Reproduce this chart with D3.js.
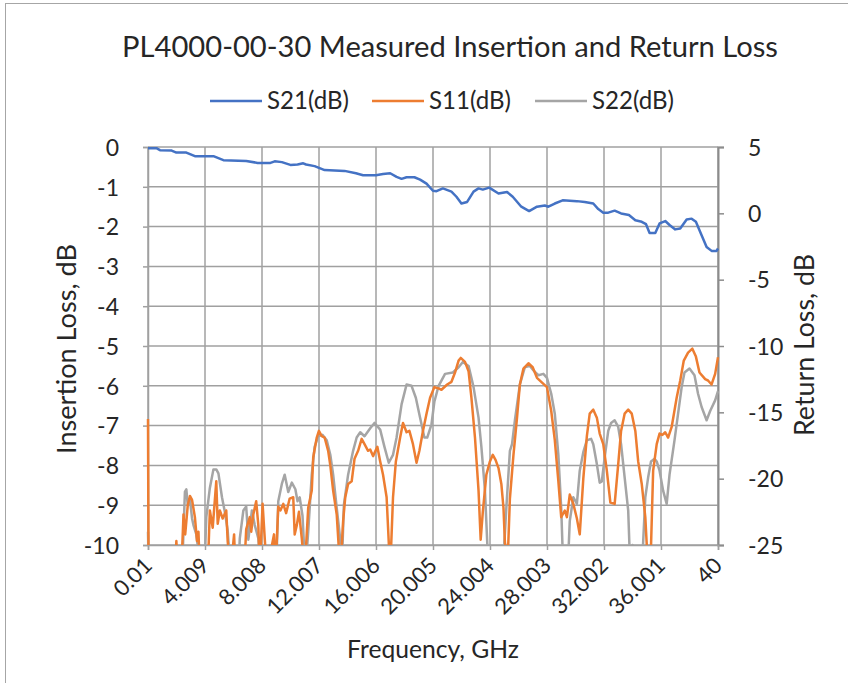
<!DOCTYPE html>
<html>
<head>
<meta charset="utf-8">
<script src="https://cdn.jsdelivr.net/npm/d3@7"></script>
<style>
  html, body { margin: 0; padding: 0; background: #fff; }
  svg { display: block; }
  text { font-family: Lato, "Open Sans", sans-serif; fill: #262626; }
</style>
</head>
<body>
<svg id="chart" width="848" height="683"></svg>
<script>
// ---------- DATA ----------
const titleText = "PL4000-00-30 Measured Insertion and Return Loss";
const seriesNames = ["S21(dB)", "S11(dB)", "S22(dB)"];
const xTickValues = [0.01, 4.009, 8.008, 12.007, 16.006, 20.005, 24.004, 28.003, 32.002, 36.001, 40];
const xTickLabels = ["0.01", "4.009", "8.008", "12.007", "16.006", "20.005", "24.004", "28.003", "32.002", "36.001", "40"];
const leftTicks = [0, -1, -2, -3, -4, -5, -6, -7, -8, -9, -10];
const rightTicks = [5, 0, -5, -10, -15, -20, -25];

// S21 insertion loss (left axis)
const s21Freq = [0.01,0.6,0.85,1.67,2.0,2.7,3.3,4.6,5.3,6.9,7.7,8.6,8.9,9.4,10.0,10.5,10.9,11.1,11.7,12.4,13.8,14.6,15.1,16.0,16.5,17.0,17.45,17.8,18.15,18.7,19.1,19.55,20.0,20.25,20.7,21.3,21.65,22.0,22.4,22.85,23.2,23.5,23.95,24.6,25.2,25.6,26.2,26.75,27.3,27.85,28.1,28.55,29.1,30.1,30.65,31.25,31.6,31.95,32.3,32.75,33.2,33.75,34.2,34.65,34.95,35.2,35.6,35.9,36.3,36.6,37.0,37.35,37.8,38.15,38.45,38.85,39.2,39.55,39.9,40];
const s21Val  = [-0.03,-0.03,-0.08,-0.09,-0.14,-0.14,-0.23,-0.23,-0.33,-0.35,-0.40,-0.40,-0.36,-0.38,-0.45,-0.44,-0.41,-0.44,-0.48,-0.58,-0.60,-0.66,-0.71,-0.71,-0.68,-0.66,-0.75,-0.80,-0.76,-0.76,-0.82,-0.92,-1.10,-1.11,-1.04,-1.12,-1.25,-1.42,-1.38,-1.12,-1.04,-1.07,-1.02,-1.17,-1.13,-1.25,-1.50,-1.61,-1.50,-1.47,-1.50,-1.42,-1.34,-1.36,-1.38,-1.42,-1.56,-1.65,-1.65,-1.60,-1.67,-1.71,-1.84,-1.88,-1.94,-2.16,-2.16,-1.92,-1.86,-1.96,-2.07,-2.05,-1.82,-1.80,-1.88,-2.22,-2.51,-2.61,-2.61,-2.55];

// S11 return loss (right axis)
const s11Freq = [0.01,0.05,1.9,2.0,2.1,2.4,2.5,2.62,2.8,2.95,3.1,3.3,3.45,3.55,3.65,4.2,4.35,4.55,4.8,4.9,5.05,5.25,5.5,5.6,5.8,6.05,6.15,6.8,6.9,7.15,7.25,7.4,7.6,7.75,7.85,8.05,8.2,8.35,8.85,8.95,9.15,9.3,9.5,9.7,9.95,10.2,10.3,10.45,10.6,10.8,11.0,11.25,11.5,11.6,11.85,12.0,12.2,12.4,12.65,12.8,13.0,13.25,13.5,13.7,13.85,14.05,14.3,14.5,14.75,15.0,15.2,15.45,15.6,15.8,16.1,16.3,16.5,16.75,17.0,17.2,17.4,17.7,17.9,18.15,18.35,18.6,18.85,19.05,19.3,19.55,19.8,20.1,20.4,20.6,21.0,21.3,21.55,21.8,21.95,22.25,22.5,22.7,22.95,23.2,23.35,23.5,23.75,24.0,24.2,24.4,24.6,24.8,24.95,25.05,25.25,25.4,25.65,25.9,26.1,26.35,26.7,27.0,27.3,27.6,28.0,28.3,28.55,28.8,29.0,29.25,29.4,29.6,29.85,30.1,30.3,30.55,30.8,31.0,31.25,31.5,31.7,31.95,32.2,32.45,32.75,33.0,33.2,33.45,33.7,33.95,34.2,34.4,34.65,34.9,35.1,35.25,35.45,35.7,35.9,36.1,36.3,36.5,36.75,37.1,37.35,37.6,37.9,38.2,38.45,38.7,39.1,39.3,39.55,39.8,40];
const s11Val  = [-15.5,-27,-27,-24.7,-27,-25.5,-22.7,-24.2,-22,-21.3,-21.6,-22.9,-24.7,-24,-27,-27,-22.4,-23.7,-20.2,-23.4,-22.4,-23,-22.4,-24.7,-27,-24.2,-27,-26,-23.8,-22.9,-24,-22.7,-21.7,-23.5,-27,-21.9,-24.5,-27,-24.2,-27,-22.1,-22.4,-21.9,-22.6,-21.5,-21.4,-24.2,-23.5,-22.5,-24.5,-27,-22.2,-20.9,-18.4,-16.9,-16.4,-16.8,-16.9,-17.9,-19,-20.9,-22.7,-27,-23.2,-21.4,-20.4,-20.2,-18.5,-17.9,-17.0,-17.4,-17.9,-17.8,-18.3,-17.6,-18.7,-19.7,-21.4,-27,-21.4,-18.7,-16.9,-15.8,-16.5,-16.4,-17.4,-18.8,-17.9,-16.4,-15.1,-13.9,-13.1,-13.2,-13.3,-12.9,-12.7,-12.0,-11.1,-10.9,-11.2,-11.9,-13.9,-16.9,-20.9,-24.6,-22.5,-19.7,-18.7,-18.2,-18.6,-19.2,-20.4,-22.2,-24.8,-26,-21.5,-18.2,-15.4,-12.9,-11.7,-11.3,-11.6,-12.4,-12.7,-13.1,-14.9,-17.1,-20.2,-22.9,-22.4,-22.9,-21.2,-21.9,-23,-24.2,-20,-16.8,-15.1,-14.8,-15.4,-16.6,-17.4,-19.4,-21.8,-21.9,-18.9,-16.4,-15.1,-14.8,-15.1,-16.4,-18.7,-20.4,-22.9,-27,-27,-19.4,-17.4,-16.6,-16.7,-16.5,-16.9,-16.1,-13.9,-12.6,-11.1,-10.5,-10.2,-10.8,-12.0,-12.5,-12.6,-12.9,-12.1,-10.85];

// S22 return loss (right axis)
const s22Freq = [0.01,0.06,2.4,2.6,2.7,2.8,2.95,3.1,3.2,3.4,3.55,3.7,4.0,4.1,4.35,4.6,4.8,4.95,5.2,5.4,5.6,5.8,6.35,6.45,6.7,6.9,7.05,7.3,7.5,7.75,7.95,9.0,9.15,9.4,9.6,9.85,10.1,10.35,10.5,10.65,10.85,11.05,11.25,11.5,11.7,11.95,12.25,12.55,12.8,13.0,13.25,13.5,13.6,13.75,14.05,14.4,14.65,14.9,15.2,15.6,15.9,16.3,16.6,16.9,17.2,17.45,17.8,18.15,18.5,18.8,19.1,19.4,19.6,19.9,20.1,20.4,20.85,21.4,21.8,22.1,22.5,22.85,23.2,23.4,23.65,23.9,24.9,25.15,25.4,25.55,25.75,26.1,26.45,26.8,27.1,27.4,27.75,28.0,28.3,28.55,28.8,29.0,29.15,29.45,29.6,29.85,30.1,30.3,30.55,30.8,31.1,31.25,31.5,31.7,31.85,32.05,32.3,32.5,32.75,33.0,33.2,33.45,33.7,33.85,34.0,34.1,34.65,34.9,35.1,35.3,35.55,35.7,35.9,36.15,36.4,36.6,36.95,37.2,37.45,37.65,38.0,38.35,38.6,38.85,39.2,39.45,39.8,40];
const s22Val  = [-24,-27,-27,-21.0,-20.8,-22,-21.5,-23,-23.5,-24.2,-25.5,-27,-26,-22.9,-20.7,-19.3,-19.3,-19.6,-21.4,-22.5,-23.9,-27,-27,-24.5,-22.4,-22.1,-24.6,-22.4,-23.5,-24.5,-27,-27,-21.7,-20.4,-19.7,-21,-20.3,-20.8,-21.7,-21.4,-22.8,-27,-24,-19.7,-17.6,-16.8,-16.7,-17.1,-18.2,-19.7,-22.2,-24.6,-27,-22,-19.7,-17.9,-16.9,-16.5,-16.8,-16.2,-15.8,-16.3,-17.6,-18.8,-18.2,-16.9,-14.4,-12.9,-13.0,-13.9,-15.4,-16.9,-16.9,-15.9,-14.2,-13.0,-12.1,-12.0,-11.6,-11.2,-11.5,-13.1,-15.4,-17.6,-20.9,-27,-27,-22.2,-17.9,-17.4,-15.6,-12.9,-11.6,-11.5,-11.9,-12.2,-12.1,-12.4,-13.6,-15.1,-18.2,-22.2,-27,-27,-23.2,-21.4,-21.9,-19.4,-18,-17.1,-17.0,-17.4,-18.9,-20.3,-20.2,-18.4,-16.4,-15.8,-15.6,-16.1,-17.4,-19.9,-22.4,-27,-25,-27,-27,-21.4,-19.9,-18.7,-18.5,-18.7,-19.4,-20.9,-21.9,-19.7,-17.1,-15.1,-13.1,-12.0,-11.7,-12.2,-13.6,-14.6,-15.6,-14.9,-14.1,-13.4];

// ---------- CHART ----------
const colors = ["#4472C4", "#ED7D31", "#A5A5A5"];
const svg = d3.select("#chart");
const W = 848, H = 683;
const plot = { left: 148, right: 718, top: 147, bottom: 545 };

const x = d3.scaleLinear().domain([0.01, 40]).range([plot.left, plot.right]);
const yL = d3.scaleLinear().domain([-10, 0]).range([plot.bottom, plot.top]);
const yR = d3.scaleLinear().domain([-25, 5]).range([plot.bottom, plot.top]);

// frame
svg.append("rect").attr("x", 5.5).attr("y", 3.5).attr("width", W + 10).attr("height", H + 10)
  .attr("fill", "none").attr("stroke", "#A6A6A6").attr("stroke-width", 1);

const gridColor = "#A0A0A0";

// horizontal gridlines
svg.append("g").selectAll("line").data(leftTicks).join("line")
  .attr("x1", plot.left).attr("x2", plot.right)
  .attr("y1", d => yL(d)).attr("y2", d => yL(d))
  .attr("stroke", gridColor).attr("stroke-width", 1.5);

// vertical gridlines
svg.append("g").selectAll("line").data(xTickValues).join("line")
  .attr("x1", d => x(d)).attr("x2", d => x(d))
  .attr("y1", plot.top).attr("y2", plot.bottom)
  .attr("stroke", gridColor).attr("stroke-width", 1.5);

const hyphen = d => String(d);

// left axis
const axL = d3.axisLeft(yL).tickValues(leftTicks).tickSize(5).tickPadding(24).tickFormat(hyphen);
const gL = svg.append("g").attr("transform", `translate(${plot.left},0)`).call(axL);
gL.select(".domain").attr("stroke", gridColor).attr("stroke-width", 1.5);
gL.selectAll(".tick line").attr("stroke", gridColor).attr("stroke-width", 1.5);
gL.selectAll(".tick text").style("font-size", "23px").attr("fill", "#262626").attr("dy", "0.36em");

// right axis
const axR = d3.axisRight(yR).tickValues(rightTicks).tickSize(6).tickPadding(24).tickFormat(hyphen);
const gR = svg.append("g").attr("transform", `translate(${plot.right},0)`).call(axR);
gR.select(".domain").attr("stroke", "#8C8C8C").attr("stroke-width", 2);
gR.selectAll(".tick line").attr("stroke", "#8C8C8C").attr("stroke-width", 1.5);
gR.selectAll(".tick text").style("font-size", "23px").attr("fill", "#262626").attr("dy", "0.36em");

// bottom axis
const axB = d3.axisBottom(x).tickValues(xTickValues).tickSize(5).tickFormat((d, i) => xTickLabels[i]);
const gB = svg.append("g").attr("transform", `translate(0,${plot.bottom})`).call(axB);
gB.select(".domain").attr("stroke", gridColor).attr("stroke-width", 1.5);
gB.selectAll(".tick line").attr("stroke", gridColor).attr("stroke-width", 1.5);
gB.selectAll(".tick text")
  .style("font-size", "22px").attr("fill", "#262626")
  .attr("text-anchor", "end")
  .attr("y", 0).attr("dy", 0)
  .attr("transform", "translate(5,22) rotate(-45)");

// clip
svg.append("clipPath").attr("id", "clip").append("rect")
  .attr("x", plot.left - 2).attr("y", plot.top - 2)
  .attr("width", plot.right - plot.left + 4).attr("height", plot.bottom - plot.top + 2);

const lineL = d3.line().x(d => x(d[0])).y(d => yL(d[1]));
const lineR = d3.line().x(d => x(d[0])).y(d => yR(d[1]));
const zip = (a, b) => a.map((v, i) => [v, b[i]]);

const gLines = svg.append("g").attr("clip-path", "url(#clip)");
gLines.append("path").datum(zip(s22Freq, s22Val)).attr("d", lineR)
  .attr("fill", "none").attr("stroke", colors[2]).attr("stroke-width", 2.5).attr("stroke-linejoin", "round");
gLines.append("path").datum(zip(s11Freq, s11Val)).attr("d", lineR)
  .attr("fill", "none").attr("stroke", colors[1]).attr("stroke-width", 2.5).attr("stroke-linejoin", "round");
gLines.append("path").datum(zip(s21Freq, s21Val)).attr("d", lineL)
  .attr("fill", "none").attr("stroke", colors[0]).attr("stroke-width", 2.5).attr("stroke-linejoin", "round");

// fit helper: set font size so text width matches target
function fit(sel, target, base) {
  sel.style("font-size", base + "px");
  const w = sel.node().getComputedTextLength();
  sel.style("font-size", (base * target / w).toFixed(2) + "px");
}

// title
const t = svg.append("text").attr("x", 450).attr("y", 57).attr("text-anchor", "middle").text(titleText);
fit(t, 656, 28);

// legend
const legX = [210, 372, 535];
seriesNames.forEach((name, i) => {
  svg.append("line").attr("x1", legX[i]).attr("x2", legX[i] + 52)
    .attr("y1", 101).attr("y2", 101).attr("stroke", colors[i]).attr("stroke-width", 2.5);
  const lt = svg.append("text").attr("x", legX[i] + 57).attr("y", 109).text(name);
  fit(lt, 82, 22);
});

// axis titles
const yt = svg.append("text").attr("transform", "translate(76,349) rotate(-90)")
  .attr("text-anchor", "middle").text("Insertion Loss, dB");
fit(yt, 210, 24);
const yt2 = svg.append("text").attr("transform", "translate(814,345) rotate(-90)")
  .attr("text-anchor", "middle").text("Return Loss, dB");
fit(yt2, 182, 24);
const xt = svg.append("text").attr("x", 433).attr("y", 658).attr("text-anchor", "middle").text("Frequency, GHz");
fit(xt, 172, 22);
</script>
</body>
</html>
